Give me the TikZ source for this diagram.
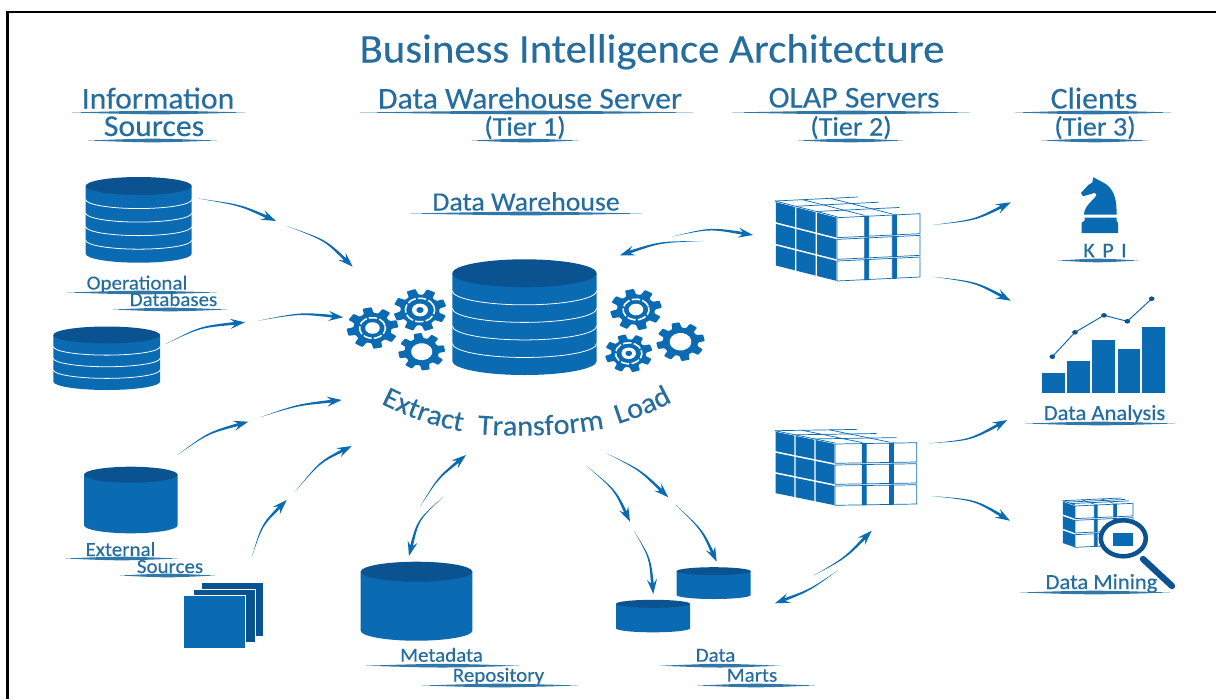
\documentclass[tikz,border=0pt]{standalone}
\usepackage{fontspec}
\setmainfont{Carlito}[FakeStretch=1.05,FakeBold=0.25]
\usetikzlibrary{calc,decorations.text}
\definecolor{mainb}{HTML}{0B6BB2}
\definecolor{darkb}{HTML}{0A5390}
\definecolor{labc}{HTML}{256C9F}
\definecolor{rulec}{HTML}{2F78A8}
\tikzset{
  x=0.025cm,y=-0.025cm,
  lab/.style={text=labc,inner sep=0pt,anchor=base},
  title/.style={lab,font=\fontsize{29}{32}\selectfont},
  head/.style={lab,font=\fontsize{21.5}{24}\selectfont},
  sub/.style={lab,font=\fontsize{19}{22}\selectfont},
  dwl/.style={lab,font=\fontsize{18.8}{22}\selectfont},
  small/.style={lab,font=\fontsize{14.2}{18}\selectfont},
  smallb/.style={lab,font=\fontsize{15.3}{18}\selectfont},
  kpil/.style={lab,font=\fontsize{15}{18}\selectfont\addfontfeature{LetterSpace=35}},
}
% underline: lens-shaped rule
\newcommand\urule[3]{\fill[rulec] (#1,#3) .. controls ({(#1+#2)/2},#3-2.4) .. (#2,#3) .. controls ({(#1+#2)/2},#3+2.4) .. cycle;}
% cylinder: name, cx, cy(top), rx, ry, H, lines
\newcommand\dbcyl[7]{%
  \coordinate (#1) at (#2,#3+#6/2);
  \fill[mainb] (#2-#4,#3) -- (#2-#4,#3+#6) arc[start angle=180,end angle=360,x radius=#4,y radius=-#5] -- (#2+#4,#3) -- cycle;
  \ifnum#7>0
  \foreach \k in {1,...,#7}{
    \pgfmathsetmacro\yy{#3+\k*#6/(#7+1)}
    \draw[white,line width=0.55pt] (#2-#4,\yy) arc[start angle=180,end angle=360,x radius=#4,y radius=-#5];
  }\fi
  \fill[darkb] (#2,#3) ellipse[x radius=#4,y radius=#5];
}
% tapered arrow: name, start, control, end
\newcommand\swoosh[4]{%
  \coordinate (#1s) at (#2);\coordinate (#1c) at (#3);\coordinate (#1e) at (#4);
  \fill[mainb] let \p1=(#1c),\p2=(#1e),\n1={atan2(\y2-\y1,\x2-\x1)} in
   (#1s) .. controls ($(#1c)+(\n1+90:.55pt)$) .. ($(#1e)+(\n1:-7.5pt)+(\n1+90:1pt)$)
   -- ($(#1e)+(\n1:-10.5pt)+(\n1+90:3.6pt)$) -- (#1e)
   -- ($(#1e)+(\n1:-10.5pt)+(\n1-90:3.6pt)$)
   -- ($(#1e)+(\n1:-7.5pt)+(\n1-90:1pt)$) .. controls ($(#1c)+(\n1-90:.55pt)$) .. (#1s) -- cycle;
}
% gear: name,x,y,R,rot,type
\newcommand\gear[6]{%
  \coordinate (#1) at (#2,#3);
  \begin{scope}[shift={(#2,#3)},yscale=0.8,rotate=#5]
    \pgfmathsetmacro\ri{0.73*#4}
    \fill[mainb,rounded corners=0.6pt] (-15:\ri) foreach \k in {0,...,7}{
      -- ({45*\k-15}:\ri) -- ({45*\k-10}:#4) -- ({45*\k+10}:#4) -- ({45*\k+15}:\ri)} -- cycle;
    \ifcase#6
      \fill[white] (0,0) circle[radius=0.45*#4];
    \or
      \fill[white] (0,0) circle[radius=0.28*#4];
      \draw[white,line width=1.1pt,dash pattern=on 6pt off 1.6pt] (0,0) circle[radius=0.5*#4];
    \or
      \fill[white] (0,0) circle[radius=0.3*#4];
      \fill[mainb] (0,0) circle[radius=0.14*#4];
      \draw[white,line width=1.1pt,dash pattern=on 6pt off 1.6pt] (0,0) circle[radius=0.55*#4];
    \fi
  \end{scope}
}
% cube: name, L, F, R, H, left columns
\newcommand\rcube[6]{%
  \coordinate (#1L) at (#2);\coordinate (#1F) at (#3);\coordinate (#1R) at (#4);
  \coordinate (#1B) at ($(#1L)+(#1R)-(#1F)$);
  \coordinate (#1) at ($(#1F)+(0,#5/2)$);
  \foreach \t in {0,0.333,0.667}{
    \draw[mainb,line width=0.5pt] ($(#1L)!\t!(#1B)$) -- ($(#1F)!\t!(#1R)$);
    \draw[mainb,line width=0.5pt] ($(#1L)!\t!(#1F)$) -- ($(#1B)!\t!(#1R)$);
  }
  \foreach \j in {0,1,2}{
    \pgfmathsetmacro\ya{\j*#5/3+1}\pgfmathsetmacro\yb{(\j+1)*#5/3-0.7}
    \foreach \i in {1,...,#6}{
      \pgfmathsetmacro\ta{(\i-1)/#6+0.012}\pgfmathsetmacro\tb{\i/#6-0.012}
      \fill[mainb] ($(#1L)!\ta!(#1F)+(0,\ya)$) -- ($(#1L)!\tb!(#1F)+(0,\ya)$) -- ($(#1L)!\tb!(#1F)+(0,\yb)$) -- ($(#1L)!\ta!(#1F)+(0,\yb)$) -- cycle;
    }
    \foreach \i in {0,1,2}{
      \pgfmathsetmacro\ta{\i/3}\pgfmathsetmacro\tb{(\i+1)/3}
      \pgfmathsetmacro\tc{\ta+(\i>0)*0.05}
      \ifnum\i>0
      \fill[mainb] ($(#1F)!\ta!(#1R)+(0,\ya-0.6)$) -- ($(#1F)!\tc!(#1R)+(0,\ya-0.6)$) -- ($(#1F)!\tc!(#1R)+(0,\yb+0.6)$) -- ($(#1F)!\ta!(#1R)+(0,\yb+0.6)$) -- cycle;
      \fi
      \draw[mainb,line width=0.5pt,fill=white] ($(#1F)!\tc!(#1R)+(0,\ya)$) -- ($(#1F)!\tb!(#1R)+(0,\ya)$) -- ($(#1F)!\tb!(#1R)+(0,\yb)$) -- ($(#1F)!\tc!(#1R)+(0,\yb)$) -- cycle;
    }
  }
}
\newcommand\etlf{\fontsize{20.5}{24}\selectfont\color{labc}}
\begin{document}
\begin{tikzpicture}
\useasboundingbox (0,0) rectangle (1216,699);
\fill[white] (0,0) rectangle (1216,699);
\draw[black,line width=1.8pt] (7.5,699) -- (7.5,12) -- (1216,12);

% titles
\node[title] (ttl) at (652,62.5) {Business Intelligence Architecture};
\node[head] (h1) at (158,108.5) {Information}; \urule{72}{245}{112.5}
\node[head] (h1b) at (154,136) {Sources}; \urule{88}{217}{140.5}
\node[head] (h2) at (530,108.5) {Data Warehouse Server}; \urule{360}{693}{112.5}
\node[sub] (h2b) at (525,135.5) {(Tier 1)}; \urule{472}{578}{140.5}
\node[head] (h3) at (854,107.5) {OLAP Servers}; \urule{732}{970}{112.5}
\node[sub] (h3b) at (851,135.5) {(Tier 2)}; \urule{798}{903}{140.5}
\node[head] (h4) at (1094,108.5) {Clients}; \urule{1015}{1171}{112.5}
\node[sub] (h4b) at (1095,135.5) {(Tier 3)}; \urule{1042}{1148}{140.5}
\node[dwl] (dw) at (526,210.5) {Data Warehouse}; \urule{410}{642}{213.5}

% source cylinders
\dbcyl{op1}{138.7}{186}{53}{9}{67.7}{4}
\dbcyl{op2}{106.7}{335}{53.4}{8.5}{46.5}{3}
\dbcyl{ext}{130.8}{474.7}{46.8}{8}{50.6}{0}
\dbcyl{meta}{416.5}{571.7}{55.8}{10}{59}{0}
\dbcyl{dm1}{713.7}{571.2}{37}{4}{23.8}{0}
\dbcyl{dm2}{653}{603.8}{37}{4}{24.5}{0}
\dbcyl{wh}{524.5}{273.3}{72.2}{14}{87.7}{4}

\node[small] (l1) at (137,289.5) {Operational}; \urule{67}{217}{292.5}
\node[small] (l2) at (173.5,306) {Databases}; \urule{113}{227}{309.5}
\node[small] (l3) at (120.5,556) {External}; \urule{65}{178}{558.5}
\node[small] (l4) at (170,573) {Sources}; \urule{120}{215}{575.5}
\node[small] (l5) at (441.5,661.7) {Metadata}; \urule{365}{520}{665.7}
\node[small] (l6) at (498.5,681.7) {Repository}; \urule{422}{578}{685.5}
\node[small] (l7) at (715.5,661.7) {Data}; \urule{660}{780}{665.7}
\node[small] (l8) at (752,681.7) {Marts}; \urule{697}{815}{685.5}

% file stack
\coordinate (stack) at (215,615);
\fill[darkb] (201.7,582.7) rectangle (263.3,636);
\draw[white,line width=0.5pt,fill=darkb] (193.3,589) rectangle (255.7,642.3);
\draw[white,line width=0.5pt,fill=mainb] (183.3,595) rectangle (245.7,648.3);

% gears
\gear{g1}{372.5}{328}{26}{12}{1}
\gear{g2}{420}{310}{26.7}{20}{2}
\gear{g3}{421.7}{351.7}{23.5}{10}{0}
\gear{g4}{636}{309.5}{26}{15}{1}
\gear{g5}{628.7}{353.3}{24}{18}{2}
\gear{g6}{680.5}{341.7}{24.3}{12}{0}

% ETL curved text
\path[decorate,decoration={text along path,text={|\etlf|Extract},text align=center}]
  (378,402) .. controls (405,416) and (435,427) .. (465,432);
\path[decorate,decoration={text along path,text={|\etlf|Transform},text align=center}]
  (476,434) .. controls (520,437) and (565,436) .. (606,428);
\path[decorate,decoration={text along path,text={|\etlf|Load},text align=center}]
  (615,425) .. controls (636,418) and (655,412) .. (675,400);

% cubes
\rcube{c1}{775,201}{837,216.7}{920,212.7}{65}{3}
\rcube{c2}{775,430.7}{835,443}{916.7,441.7}{63}{3}
\rcube{c3}{1062.7,500.7}{1075,505}{1133,502.3}{43}{1}

% magnifier
\coordinate (mag) at (1123.3,538.3);
\draw[darkb,line width=4.5pt,line cap=round] (1143,559) -- (1172,586);
\draw[darkb,line width=3.2pt,fill=white] (mag) circle[x radius=22.5,y radius=18];
\fill[mainb] (1112.7,532.7) rectangle (1132.7,546);
\node[smallb] (l9) at (1101.5,589) {Data Mining}; \urule{1020}{1170}{592.5}

% knight
\coordinate (kpi) at (1100,205);
\fill[mainb] (1093.3,177.3) -- (1101.7,181.7) .. controls (1113,187) and (1117,197) .. (1116.5,214.5)
  -- (1084,214.5) .. controls (1084,207) and (1092,201) .. (1096.5,195.5)
  -- (1095,192.8) -- (1083,196.3) -- (1081,193) -- (1088.3,185) -- (1092.3,182.5) -- cycle;
\fill[mainb] (1084.5,217.7) -- (1116.5,217.7) -- (1116.5,220.5) -- (1118,223) -- (1118,233) -- (1081.5,233) -- (1081.5,223) -- (1084.5,220.5) -- cycle;
\node[kpil] (l10) at (1105,257.3) {KPI}; \urule{1058}{1138}{260.5}

% chart
\coordinate (chart) at (1103,350);
\fill[mainb] (1042.3,372.7) rectangle (1065,393.3);
\fill[mainb] (1067.3,360.7) rectangle (1090,393.3);
\fill[mainb] (1092.3,340) rectangle (1115,393.3);
\fill[mainb] (1117.7,349.3) rectangle (1140,393.3);
\fill[mainb] (1142.3,326.7) rectangle (1165,393.3);
\draw[mainb,line width=0.7pt] (1052.3,356.7) coordinate (p1) -- (1075,332.3) coordinate (p2) -- (1104,315.3) coordinate (p3) -- (1127.3,321.3) coordinate (p4) -- (1151.7,298.7) coordinate (p5);
\foreach \p in {p1,p2,p3,p4,p5}{\fill[darkb] (\p) circle[x radius=2.8,y radius=2.3];}
\node[smallb] (l11) at (1104.5,420) {Data Analysis}; \urule{1025}{1175}{423.5}

% arrows
\swoosh{a1}{198,198.5}{240,205}{276,221}
\swoosh{a2}{286.7,226}{325,240}{352.7,266.7}
\swoosh{a3}{165.7,344}{200,327}{245,322.3}
\swoosh{a4}{258.3,320.7}{300,313}{343.3,317.3}
\swoosh{a5}{177.3,455}{208,433}{248.3,421.7}
\swoosh{a6}{260,417.3}{297,405}{341.7,400}
\swoosh{a7}{251.7,557.3}{262,525}{286.7,500}
\swoosh{a8}{295,491.7}{320,462}{351.7,446}
\swoosh{a9}{420,506.7}{438,478}{466,455}
\swoosh{a10}{443.3,496.7}{418,520}{409,556}
\swoosh{a11}{586.7,466}{615,490}{630,521.7}
\swoosh{a12}{634,530.7}{650,558}{653.3,594}
\swoosh{a13}{606.7,453.3}{640,470}{668.3,497.3}
\swoosh{a14}{676,505}{702,530}{716.7,561.7}
\swoosh{a15}{813.3,575.7}{845,558}{871.7,530.7}
\swoosh{a16}{838.3,570}{810,590}{775,603.3}
\swoosh{a17}{671.7,236.7}{710,228}{753,235}
\swoosh{a18}{703.3,241}{660,242}{620,255.3}
\swoosh{a19}{932.7,225}{975,220}{1010.7,202.3}
\swoosh{a20}{932.7,276.7}{975,282}{1010.7,300.7}
\swoosh{a21}{930,443.3}{970,440}{1007.3,420}
\swoosh{a22}{931.7,496}{975,500}{1010,520.7}
\end{tikzpicture}
\end{document}
